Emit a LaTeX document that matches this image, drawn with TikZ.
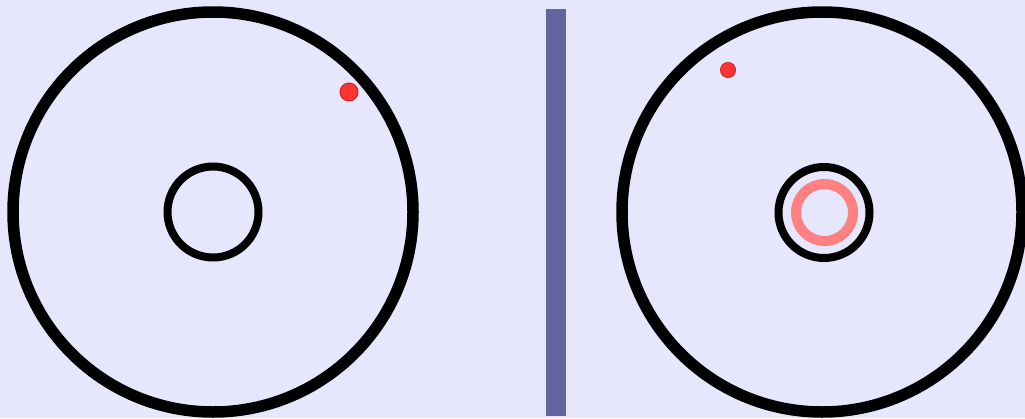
\documentclass[tikz,border=0pt]{standalone}
\usepackage{tikz}

\definecolor{bgcol}{RGB}{230,230,252}
\definecolor{barcol}{RGB}{99,102,158}
\definecolor{dotcol}{RGB}{255,51,51}
\definecolor{ringcol}{RGB}{255,128,128}

\begin{document}
\begin{tikzpicture}[
  disc/.style={circle, draw=black, line width=1.15mm, minimum size=4.0cm, inner sep=0pt},
  hub/.style={circle, draw=black, line width=0.8mm, minimum size=0.91cm, inner sep=0pt},
  halo/.style={circle, draw=ringcol, line width=1.0mm, minimum size=0.57cm, inner sep=0pt},
  dot/.style={circle, fill=dotcol, draw=dotcol!80!black, line width=0.1mm, inner sep=0pt},
  bar/.style={fill=barcol, draw=none, inner sep=0pt, minimum width=0.2cm, minimum height=4.07cm}
]
% background and frame
\fill[bgcol] (0,0) rectangle (10.25,4.18);
\useasboundingbox (0,0) rectangle (10.25,4.18);

% left panel
\node[disc] (ldisc) at (2.13,2.06) {};
\node[hub] (lhub) at (2.13,2.06) {};
\node[dot, minimum size=0.18cm] (ldot) at (3.49,3.26) {};

% divider
\node[bar] (sep) at (5.56,2.055) {};

% right panel
\node[disc] (rdisc) at (8.22,2.06) {};
\node[hub] (rhub) at (8.24,2.055) {};
\node[halo] (rhalo) at (8.245,2.055) {};
\node[dot, minimum size=0.15cm] (rdot) at (7.28,3.48) {};
\end{tikzpicture}
\end{document}
